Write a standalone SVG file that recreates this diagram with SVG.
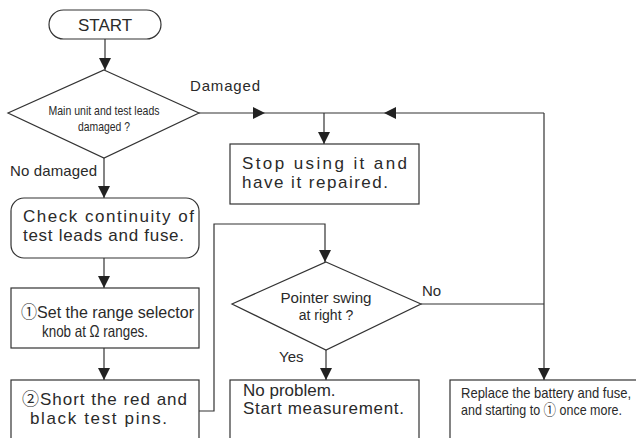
<svg xmlns="http://www.w3.org/2000/svg" width="636" height="438" viewBox="0 0 636 438">
<defs>
<marker id="ah" viewBox="0 0 12 12" markerWidth="12" markerHeight="12" refX="12" refY="6" orient="auto" markerUnits="userSpaceOnUse">
<path d="M0,0 L12,6 L0,12 Z" fill="#222"/>
</marker>
</defs>
<style>
.shape{fill:#fff;stroke:#333;stroke-width:1.2}
.ln{fill:none;stroke:#333;stroke-width:1.2}
.arr{marker-end:url(#ah)}
.t{font-family:"Liberation Sans","Noto Sans CJK JP",sans-serif;fill:#2a2a2a}
.big{font-size:17px}
.lbl{font-size:15px}
</style>
<rect width="636" height="438" fill="#fff"/>
<g id="connectors">
<line class="ln arr" x1="105" y1="39" x2="105" y2="70"/>
<line class="ln arr" x1="104" y1="158" x2="104" y2="198"/>
<line class="ln arr" x1="199" y1="113" x2="265" y2="113"/>
<line class="ln" x1="265" y1="113" x2="384" y2="113"/>
<line class="ln arr" x1="544" y1="113" x2="384" y2="113"/>
<line class="ln arr" x1="324" y1="113" x2="324" y2="144"/>
<line class="ln arr" x1="544" y1="113" x2="544" y2="380"/>
<line class="ln arr" x1="104" y1="258" x2="104" y2="288"/>
<line class="ln arr" x1="104" y1="348" x2="104" y2="380"/>
<polyline class="ln arr" points="199,411 214,411 214,224 325,224 325,262"/>
<line class="ln arr" x1="326" y1="350" x2="326" y2="380"/>
<line class="ln" x1="421" y1="304" x2="544" y2="304"/>
<text class="t lbl" x="190" y="91" textLength="70" lengthAdjust="spacing">Damaged</text>
<text class="t lbl" x="10" y="176" textLength="87" lengthAdjust="spacing">No damaged</text>
<text class="t lbl" x="422" y="296">No</text>
<text class="t lbl" x="279" y="362">Yes</text>
</g>
<g id="start">
<rect class="shape" x="49" y="10" width="112" height="29" rx="14.5"/>
<text class="t" x="105" y="31" font-size="17" text-anchor="middle">START</text>
</g>
<g id="decision1">
<polygon class="shape" points="104,70 199,113 104,158 8,113"/>
<text class="t" x="104" y="115" font-size="13.5" text-anchor="middle" textLength="111" lengthAdjust="spacingAndGlyphs">Main unit and test leads</text>
<text class="t" x="104" y="131" font-size="13.5" text-anchor="middle" textLength="52" lengthAdjust="spacingAndGlyphs">damaged ?</text>
</g>
<g id="stop">
<rect class="shape" x="230" y="144" width="189" height="60"/>
<text class="t big" x="242" y="169" textLength="165" lengthAdjust="spacing">Stop using it and</text>
<text class="t big" x="242" y="188" textLength="146" lengthAdjust="spacing">have it repaired.</text>
</g>
<g id="check">
<rect class="shape" x="11" y="198" width="188" height="60" rx="13"/>
<text class="t big" x="23" y="222" textLength="171" lengthAdjust="spacing">Check continuity of</text>
<text class="t big" x="23" y="241" textLength="161" lengthAdjust="spacing">test leads and fuse.</text>
</g>
<g id="step1">
<rect class="shape" x="11" y="288" width="188" height="60"/>
<text class="t" x="21" y="318" font-size="16.5" textLength="173" lengthAdjust="spacingAndGlyphs">①Set the range selector</text>
<text class="t" x="42" y="337" font-size="16.5" textLength="106" lengthAdjust="spacingAndGlyphs">knob at Ω ranges.</text>
</g>
<g id="step2">
<rect class="shape" x="11" y="380" width="188" height="70"/>
<text class="t big" x="22" y="405" textLength="165" lengthAdjust="spacing">②Short the red and</text>
<text class="t big" x="30" y="424" textLength="137" lengthAdjust="spacing">black test pins.</text>
</g>
<g id="decision2">
<polygon class="shape" points="326,262 421,304 326,350 232,304"/>
<text class="t" x="326" y="303" font-size="14" text-anchor="middle" textLength="91" lengthAdjust="spacingAndGlyphs">Pointer swing</text>
<text class="t" x="326" y="320" font-size="14" text-anchor="middle">at right ?</text>
</g>
<g id="noproblem">
<rect class="shape" x="230" y="380" width="189" height="70"/>
<text class="t big" x="243" y="396">No problem.</text>
<text class="t big" x="243" y="414" textLength="161" lengthAdjust="spacing">Start measurement.</text>
</g>
<g id="replace">
<rect class="shape" x="450" y="380" width="200" height="70"/>
<text class="t" x="461" y="398" font-size="15" textLength="170" lengthAdjust="spacingAndGlyphs">Replace the battery and fuse,</text>
<text class="t" x="461" y="415" font-size="15" textLength="161" lengthAdjust="spacingAndGlyphs">and starting to ① once more.</text>
</g>
</svg>
